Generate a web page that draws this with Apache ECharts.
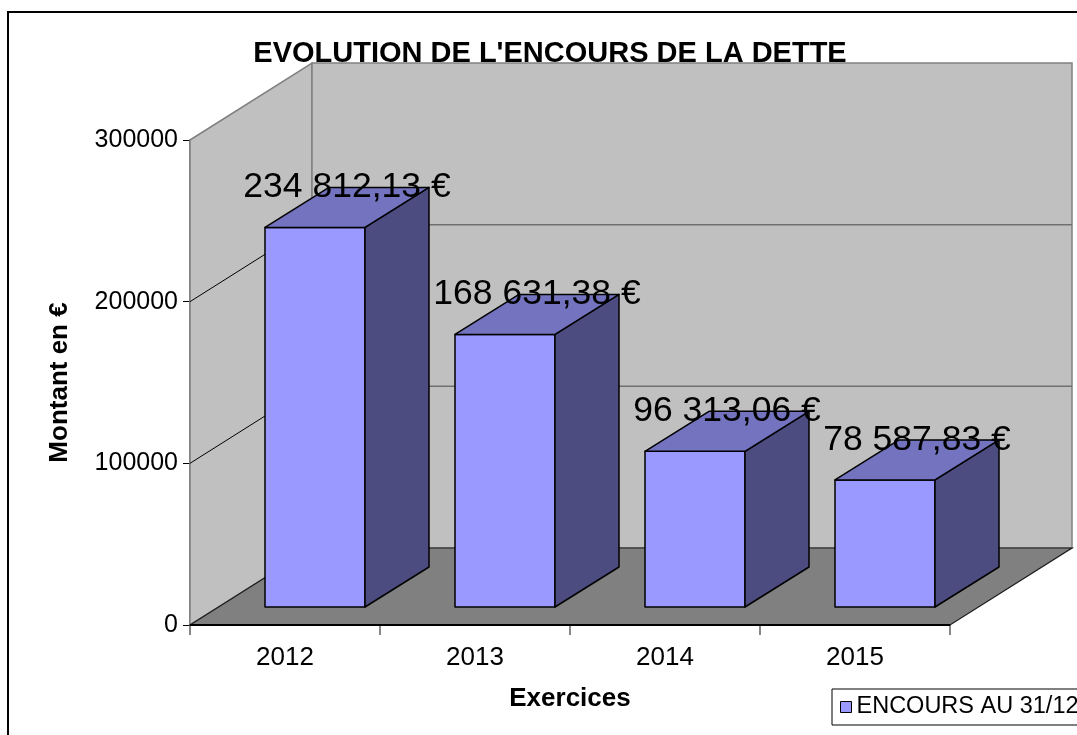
<!DOCTYPE html>
<html><head><meta charset="utf-8">
<script src="https://cdn.jsdelivr.net/npm/echarts@6/dist/echarts.min.js"></script>
<style>html,body{margin:0;padding:0;background:#fff}#c{width:1077px;height:735px}</style>
</head><body><div id="c"></div>
<script>
// ---- data ----
const categories = ['2012', '2013', '2014', '2015'];
const encours = [234812.13, 168631.38, 96313.06, 78587.83];
const yTicks = [0, 100000, 200000, 300000];
const seriesName = 'ENCOURS AU 31/12';
const titleText = "EVOLUTION DE L'ENCOURS DE LA DETTE";

// ---- style constants (pixels) ----
const FONT = '"Liberation Sans", Arial, sans-serif';
const DEPTH = [122, -77];      // wall depth projection
const BAR_FRONT = [30, -18];   // bar front plane offset
const BAR_BACK = [94, -58];    // bar back plane offset
const HALF = 50;               // half bar width

function fmt(v) {
  const p = v.toFixed(2).split('.');
  return p[0].replace(/\B(?=(\d{3})+(?!\d))/g, ' ') + ',' + p[1] + ' €';
}

const chart = echarts.init(document.getElementById('c'), null, { renderer: 'canvas' });

function renderWalls(params, api) {
  const cs = params.coordSys;
  const v = api.value(1);
  const yv = api.coord([0, v])[1];
  const x0 = cs.x, x1 = cs.x + cs.width, yTop = cs.y, yBot = cs.y + cs.height;
  const dx = DEPTH[0], dy = DEPTH[1];
  const children = [];
  if (params.dataIndex === 0) {
    children.push({ type: 'polygon', shape: { points: [[x0, yTop], [x0 + dx, yTop + dy], [x0 + dx, yBot + dy], [x0, yBot]] },
      style: { fill: '#c0c0c0', stroke: '#808080', lineWidth: 1.5 } });
    children.push({ type: 'polygon', shape: { points: [[x0 + dx, yTop + dy], [x1 + dx, yTop + dy], [x1 + dx, yBot + dy], [x0 + dx, yBot + dy]] },
      style: { fill: '#c0c0c0', stroke: '#808080', lineWidth: 1.5 } });
    children.push({ type: 'polygon', shape: { points: [[x0, yBot], [x0 + dx, yBot + dy], [x1 + dx, yBot + dy], [x1, yBot]] },
      style: { fill: '#808080', stroke: '#1a1a1a', lineWidth: 1.2 } });
    children.push({ type: 'line', shape: { x1: x0, y1: yBot, x2: x1, y2: yBot }, style: { stroke: '#000', lineWidth: 2 } });
  } else if (params.dataIndex < yTicks.length - 1) {
    children.push({ type: 'line', shape: { x1: x0, y1: yv, x2: x0 + dx, y2: yv + dy }, style: { stroke: '#000', lineWidth: 1 } });
    children.push({ type: 'line', shape: { x1: x0 + dx, y1: yv + dy, x2: x1 + dx, y2: yv + dy }, style: { stroke: '#707070', lineWidth: 1.5 } });
  }
  return { type: 'group', children: children };
}

function renderBar(params, api) {
  const top = api.coord([api.value(0), api.value(1)]);
  const base = api.coord([api.value(0), 0]);
  const cx = top[0];
  const fL = cx + BAR_FRONT[0] - HALF, fR = cx + BAR_FRONT[0] + HALF;
  const fT = top[1] + BAR_FRONT[1], fB = base[1] + BAR_FRONT[1];
  const bdx = BAR_BACK[0] - BAR_FRONT[0], bdy = BAR_BACK[1] - BAR_FRONT[1];
  const st = { stroke: '#000', lineWidth: 1.5, lineJoin: 'round' };
  return { type: 'group', children: [
    { type: 'rect', shape: { x: fL, y: fT, width: fR - fL, height: fB - fT }, style: Object.assign({ fill: '#9999ff' }, st) },
    { type: 'polygon', shape: { points: [[fR, fT], [fR + bdx, fT + bdy], [fR + bdx, fB + bdy], [fR, fB]] }, style: Object.assign({ fill: '#4c4c80' }, st) },
    { type: 'polygon', shape: { points: [[fL, fT], [fL + bdx, fT + bdy], [fR + bdx, fT + bdy], [fR, fT]] }, style: Object.assign({ fill: '#7373bf' }, st) }
  ] };
}

function renderLabel(params, api) {
  const v = api.value(1);
  const top = api.coord([api.value(0), v]);
  const x = top[0] + (BAR_FRONT[0] + BAR_BACK[0]) / 2;
  const y = top[1] + BAR_BACK[1];
  return { type: 'text', x: x, y: y, style: { text: fmt(v), fill: '#000', font: '35.5px ' + FONT, align: 'center', verticalAlign: 'middle' } };
}

const option = {
  animation: false,
  backgroundColor: '#fff',
  textStyle: { fontFamily: FONT },
  title: { text: titleText, left: 545, top: 34, textAlign: 'center',
    textStyle: { fontSize: 29, fontWeight: 'bold', color: '#000', fontFamily: FONT } },
  legend: { data: [seriesName], left: 832, top: 689, padding: [6, 30, 6, 8], borderColor: '#000', borderWidth: 1,
    icon: 'rect', itemWidth: 11, itemHeight: 11, backgroundColor: '#fff',
    itemStyle: { color: '#9999ff', borderColor: '#000', borderWidth: 1 },
    textStyle: { fontSize: 23.5, color: '#000', fontFamily: FONT } },
  grid: { left: 190, top: 140, width: 760, height: 485, outerBoundsMode: 'none', containLabel: false },
  xAxis: { type: 'category', data: categories, boundaryGap: true,
    axisLine: { show: true, lineStyle: { color: '#000', width: 1 } },
    axisTick: { show: true, length: 10, lineStyle: { color: '#606060', width: 1.5 } },
    axisLabel: { fontSize: 26, color: '#000', margin: 20, fontFamily: FONT },
    splitLine: { show: false },
    name: 'Exercices', nameLocation: 'middle', nameGap: 61,
    nameTextStyle: { fontSize: 26, fontWeight: 'bold', color: '#000', fontFamily: FONT } },
  yAxis: { type: 'value', min: yTicks[0], max: yTicks[yTicks.length - 1], interval: yTicks[1] - yTicks[0],
    axisLine: { show: true, lineStyle: { color: '#606060', width: 1.5 } },
    axisTick: { show: true, length: 7, lineStyle: { color: '#000', width: 1 } },
    axisLabel: { fontSize: 25, color: '#000', margin: 12, fontFamily: FONT, formatter: v => String(v) },
    splitLine: { show: false },
    name: 'Montant en €', nameLocation: 'middle', nameGap: 117, nameRotate: 90,
    nameTextStyle: { fontSize: 26, fontWeight: 'bold', color: '#000', fontFamily: FONT } },
  graphic: [{ type: 'rect', shape: { x: 8, y: 12, width: 1200, height: 900 }, style: { fill: 'none', stroke: '#000', lineWidth: 2 }, z: 100, silent: true }],
  series: [
    { type: 'custom', name: 'walls', renderItem: renderWalls, data: yTicks.map(v => [0, v]), z: 1, silent: true, clip: false },
    { type: 'custom', name: seriesName, renderItem: renderBar, data: categories.map((c, i) => [i, encours[i]]), z: 3, clip: false,
      itemStyle: { color: '#9999ff', borderColor: '#000', borderWidth: 1 } },
    { type: 'custom', name: 'labels', renderItem: renderLabel, data: categories.map((c, i) => [i, encours[i]]), z: 5, silent: true, clip: false }
  ]
};
chart.setOption(option);
</script>
</body></html>
